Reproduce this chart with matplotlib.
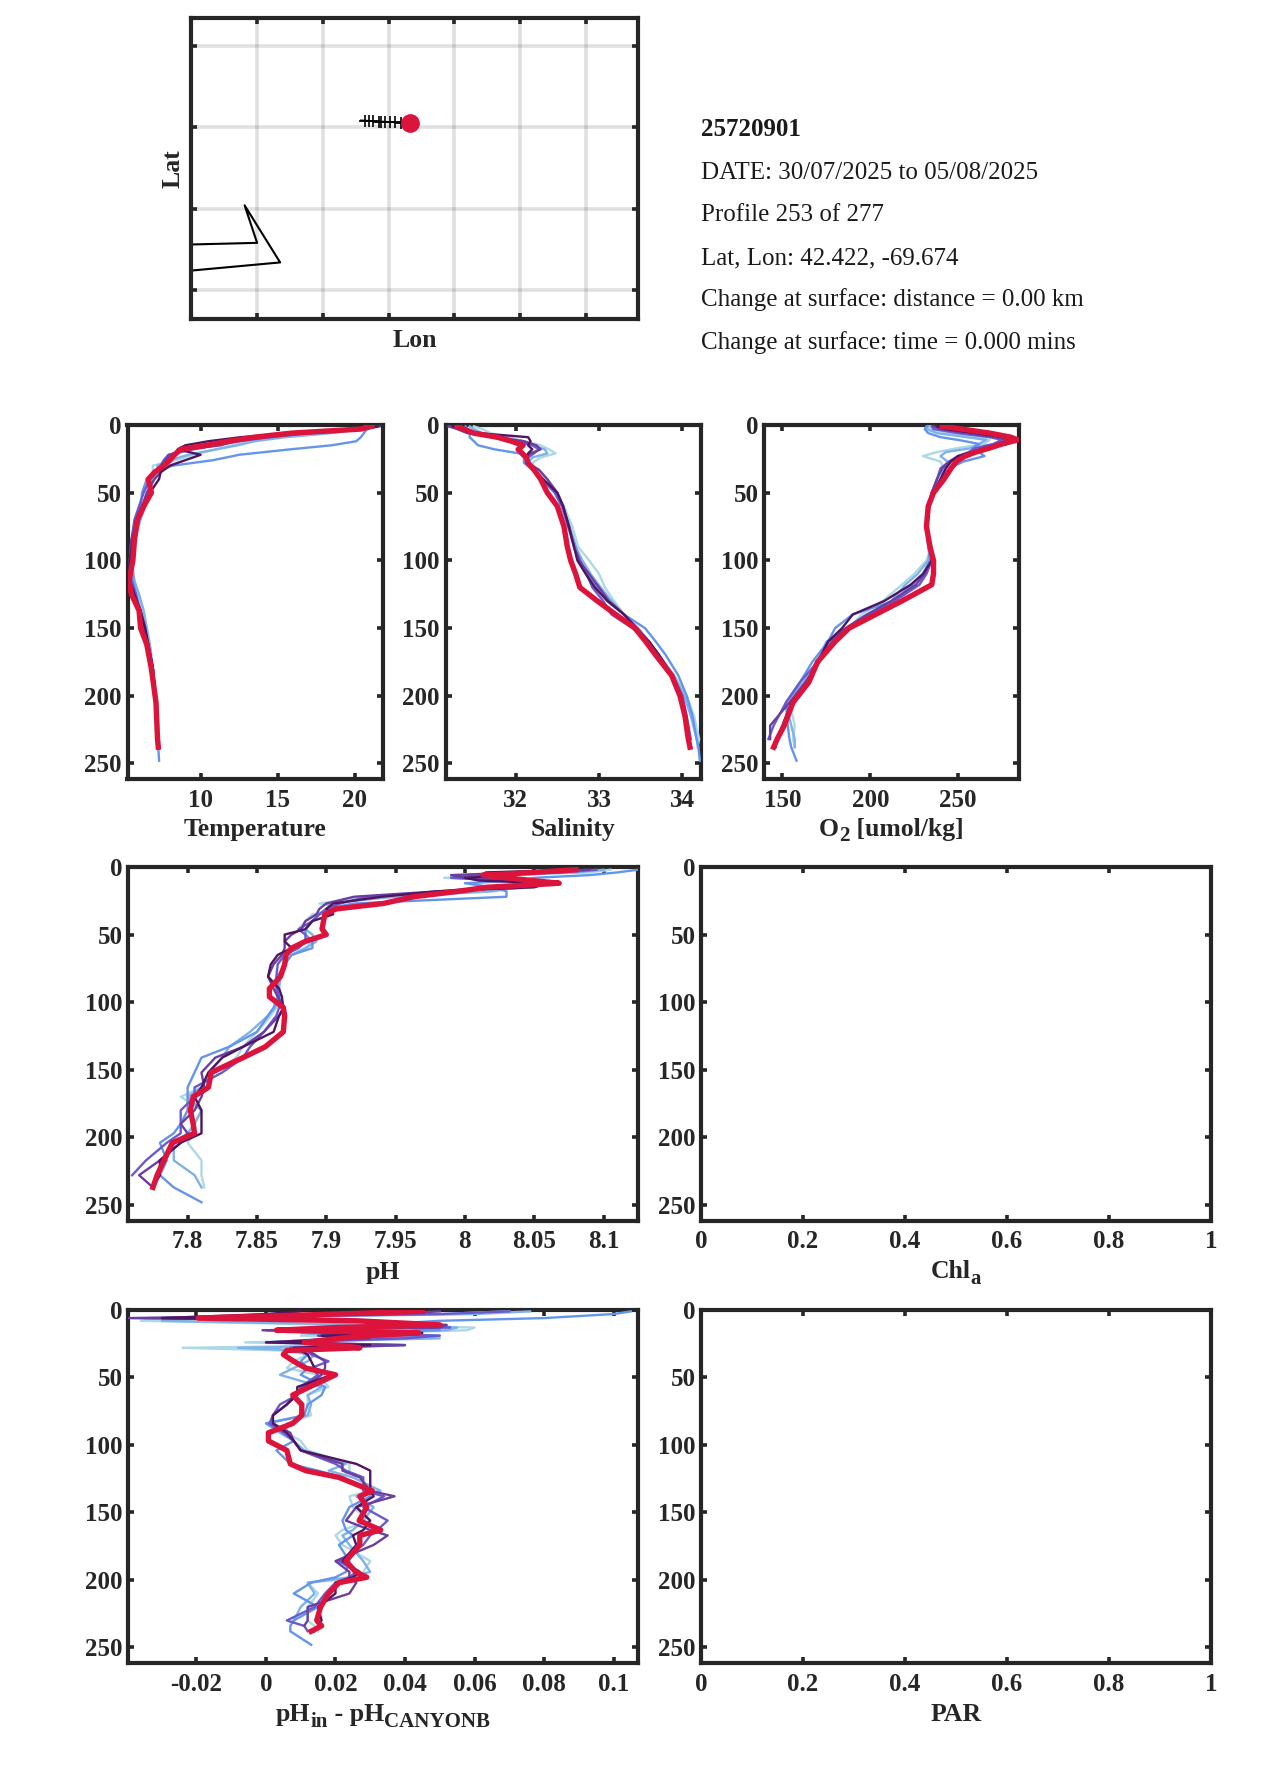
import matplotlib
matplotlib.use("Agg")
import matplotlib.pyplot as plt

plt.rcParams['font.family'] = ['Liberation Serif', 'DejaVu Serif']

W, H = 1275, 1771
DARK = '#262626'
colors = ['#add8e6', '#7fb2e8', '#6495ed', '#6a5acd', '#6b3fa0', '#4f1560', '#dc143c']

# ---- map ----
coast_lon = [-73.0, -72.0, -72.19, -71.65, -73.0]
coast_lat = [41.68, 41.69, 41.92, 41.57, 41.52]
track_lon = [-70.354, -70.303, -70.24, -70.152, -70.117, -70.05, -69.985, -69.90, -69.82]
track_lat = [42.44, 42.438, 42.437, 42.434, 42.433, 42.432, 42.43, 42.43, 42.428]
track_tail_lon = [-70.42, -69.674]
track_tail_lat = [42.441, 42.424]
lon_ticks = [-72, -71, -70, -69, -68, -67]
lat_ticks = [41.4, 41.9, 42.4, 42.9]

# ---- temperature ----
zT = [1, 3, 6, 9, 12, 15, 18, 22, 26, 30, 35, 40, 50, 60, 70, 85, 100, 115, 125, 137, 150, 162, 180, 205, 232, 238, 248]
T_light = [20.7, 20.3, 18.0, 15.0, 13.0, 12.0, 11.0, 9.5, 8.4, 6.9, 6.9, 6.8, 6.5, 6.4, 6.0, 5.7, 5.5, 5.7, 5.9, 6.2, 6.5, 6.7, 6.9, 7.1, 7.2, 7.25]
T_sky = [20.9, 20.5, 18.5, 15.5, 13.5, 12.4, 11.0, 9.2, 8.0, 7.2, 7.2, 6.9, 6.6, 6.4, 6.1, 5.7, 5.5, 5.7, 6.0, 6.3, 6.5, 6.7, 6.9, 7.1, 7.2, 7.25]
T_blue = [21.0, 20.8, 20.6, 20.4, 20.1, 18.5, 15.8, 12.5, 10.8, 8.2, 7.0, 6.5, 6.2, 6.1, 5.9, 5.6, 5.5, 5.6, 5.8, 6.1, 6.4, 6.6, 6.9, 7.1, 7.2, 7.25, 7.3]
T_slate = [21.4, 20.5, 17.0, 14.5, 12.5, 11.0, 9.5, 7.9, 7.6, 7.4, 7.1, 6.7, 6.3, 6.0, 5.7, 5.5, 5.4, 5.5, 5.8, 6.0, 6.3, 6.6, 6.9, 7.1, 7.2]
T_purple = [21.6, 20.6, 16.5, 14.0, 12.2, 11.3, 9.0, 8.0, 7.7, 7.5, 7.4, 7.0, 6.5, 6.2, 5.9, 5.5, 5.4, 5.4, 5.7, 6.0, 6.3, 6.6, 6.9, 7.1, 7.2]
T_dark = [21.5, 20.4, 16.0, 12.6, 10.5, 9.0, 8.5, 10.0, 9.0, 8.0, 7.4, 7.3, 6.7, 6.2, 5.8, 5.6, 5.4, 5.4, 5.7, 6.1, 6.4, 6.6, 6.9, 7.1, 7.2, 7.25]
T_red = [21.1, 20.4, 15.9, 13.5, 11.8, 10.4, 8.7, 8.3, 8.0, 7.6, 7.0, 6.6, 6.8, 6.3, 5.9, 5.7, 5.6, 5.35, 5.5, 6.0, 6.1, 6.5, 6.8, 7.1, 7.2, 7.25]

# ---- salinity ----
zS = [1, 3, 6, 9, 12, 15, 18, 21, 24, 28, 33, 40, 50, 60, 75, 90, 100, 110, 120, 130, 140, 150, 160, 170, 185, 200, 215, 232, 238, 248]
S_light = [31.5, 31.6, 31.7, 31.9, 32.1, 32.3, 32.4, 32.48, 32.3, 32.2, 32.25, 32.38, 32.48, 32.58, 32.68, 32.75, 32.88, 33.0, 33.07, 33.18, 33.3, 33.42, 33.55, 33.7, 33.9, 34.05, 34.14, 34.2, 34.18]
S_sky = [31.45, 31.5, 31.6, 31.85, 32.1, 32.2, 32.35, 32.38, 32.2, 32.15, 32.22, 32.33, 32.47, 32.56, 32.65, 32.72, 32.8, 32.9, 33.02, 33.15, 33.3, 33.47, 33.6, 33.72, 33.9, 34.02, 34.1, 34.17, 34.19]
S_blue = [31.4, 31.42, 31.45, 31.45, 31.5, 31.55, 31.75, 32.05, 32.1, 32.1, 32.2, 32.32, 32.47, 32.55, 32.63, 32.72, 32.77, 32.85, 32.98, 33.1, 33.3, 33.55, 33.68, 33.8, 33.95, 34.05, 34.12, 34.17, 34.19, 34.21]
S_slate = [31.2, 31.35, 31.45, 31.7, 32.0, 32.2, 32.28, 32.22, 32.15, 32.12, 32.2, 32.32, 32.47, 32.56, 32.63, 32.7, 32.77, 32.85, 32.92, 33.05, 33.15, 33.4, 33.6, 33.72, 33.88, 34.0, 34.05, 34.1]
S_purple = [31.2, 31.3, 31.42, 31.75, 32.1, 32.25, 32.3, 32.18, 32.12, 32.14, 32.28, 32.38, 32.5, 32.57, 32.64, 32.7, 32.76, 32.88, 33.0, 33.12, 33.3, 33.45, 33.58, 33.68, 33.88, 33.98, 34.03, 34.08]
S_dark = [31.25, 31.35, 31.55, 32.15, 32.18, 32.15, 32.2, 32.15, 32.13, 32.15, 32.22, 32.33, 32.5, 32.57, 32.64, 32.7, 32.74, 32.84, 32.95, 33.1, 33.3, 33.45, 33.6, 33.72, 33.88, 33.98, 34.03, 34.07, 34.09]
S_red = [31.3, 31.38, 31.5, 31.78, 31.95, 32.09, 32.03, 32.08, 32.13, 32.15, 32.22, 32.3, 32.38, 32.5, 32.58, 32.62, 32.66, 32.72, 32.77, 32.98, 33.2, 33.43, 33.56, 33.68, 33.87, 33.97, 34.03, 34.07, 34.09]

# ---- oxygen ----
zO = [1, 3, 6, 9, 11, 14, 17, 20, 23, 27, 32, 40, 50, 60, 75, 90, 100, 110, 118, 130, 140, 150, 160, 175, 190, 205, 222, 232, 238, 248]
O_light = [234, 234, 245, 262, 268, 265, 250, 238, 230, 240, 242, 240, 237, 234, 232, 235, 232, 225, 218, 207, 195, 188, 177, 169, 164, 154, 157, 156, 157]
O_sky = [233, 232, 238, 255, 266, 262, 258, 243, 240, 244, 242, 240, 236, 233, 232, 234, 233, 227, 220, 212, 200, 187, 175, 170, 162, 152, 155, 157, 157]
O_blue = [232, 231, 233, 240, 250, 262, 258, 262, 265, 253, 245, 240, 235, 233, 232, 233, 234, 230, 224, 213, 190, 180, 176, 167, 160, 152, 153, 154, 155, 158]
O_slate = [235, 236, 250, 268, 275, 270, 260, 256, 250, 245, 240, 238, 235, 233, 232, 234, 235, 232, 228, 214, 200, 188, 178, 170, 160, 152, 145, 142]
O_purple = [236, 240, 255, 272, 278, 272, 264, 258, 250, 245, 241, 238, 235, 233, 232, 234, 235, 231, 226, 212, 198, 186, 176, 171, 163, 154, 143, 143]
O_dark = [238, 243, 260, 276, 282, 278, 268, 258, 250, 246, 243, 240, 236, 233, 232, 234, 235, 230, 223, 208, 190, 184, 176, 170, 165, 155, 150, 147, 146]
O_red = [241, 252, 268, 280, 284, 275, 268, 260, 254, 249, 246, 242, 236, 233, 232, 234, 236, 236, 235, 218, 203, 188, 180, 170, 165, 156, 151, 147, 145]

# ---- pH ----
zP = [2, 4, 6, 8, 10, 12, 15, 18, 22, 27, 31, 35, 40, 46, 50, 55, 60, 65, 72, 81, 90, 96, 104, 110, 122, 133, 141, 152, 163, 170, 180, 190, 197, 204, 217, 228, 237, 248]
P_light = [8.105, 8.09, 8.03, 7.985, 8.04, 8.06, 8.05, 8.0, 7.93, 7.895, 7.915, 7.89, 7.885, 7.88, 7.885, 7.89, 7.885, 7.875, 7.87, 7.866, 7.865, 7.868, 7.864, 7.86, 7.85, 7.84, 7.835, 7.82, 7.81, 7.795, 7.81, 7.805, 7.805, 7.80, 7.81, 7.81, 7.812]
P_sky = [8.10, 8.08, 8.02, 7.99, 8.03, 8.05, 8.04, 8.02, 7.95, 7.90, 7.91, 7.895, 7.89, 7.885, 7.89, 7.893, 7.885, 7.875, 7.87, 7.867, 7.866, 7.866, 7.863, 7.858, 7.845, 7.83, 7.825, 7.815, 7.81, 7.80, 7.81, 7.805, 7.80, 7.79, 7.79, 7.805, 7.81]
P_blue = [8.125, 8.11, 8.09, 8.05, 8.04, 8.0, 8.02, 8.03, 8.03, 7.92, 7.90, 7.895, 7.89, 7.885, 7.885, 7.89, 7.89, 7.875, 7.87, 7.865, 7.865, 7.865, 7.862, 7.858, 7.85, 7.83, 7.81, 7.805, 7.80, 7.80, 7.80, 7.795, 7.79, 7.78, 7.785, 7.78, 7.79, 7.81]
P_slate = [8.095, 8.07, 8.01, 7.99, 8.03, 8.04, 8.03, 7.99, 7.93, 7.91, 7.90, 7.895, 7.89, 7.88, 7.885, 7.885, 7.88, 7.87, 7.865, 7.864, 7.864, 7.866, 7.866, 7.864, 7.855, 7.845, 7.84, 7.825, 7.805, 7.805, 7.795, 7.795, 7.795, 7.785, 7.77, 7.76]
P_purple = [8.09, 8.04, 7.99, 8.0, 8.03, 8.05, 8.02, 7.98, 7.92, 7.90, 7.895, 7.893, 7.885, 7.882, 7.875, 7.87, 7.87, 7.868, 7.862, 7.858, 7.862, 7.865, 7.87, 7.866, 7.855, 7.84, 7.82, 7.81, 7.812, 7.81, 7.805, 7.795, 7.80, 7.795, 7.78, 7.765, 7.775]
P_dark = [8.08, 8.015, 8.03, 8.0, 8.01, 8.06, 8.05, 7.98, 7.94, 7.905, 7.90, 7.905, 7.89, 7.885, 7.87, 7.87, 7.875, 7.865, 7.86, 7.858, 7.866, 7.868, 7.869, 7.866, 7.862, 7.84, 7.825, 7.815, 7.81, 7.805, 7.81, 7.81, 7.81, 7.795, 7.78, 7.78, 7.775]
P_red = [8.08, 8.05, 8.013, 8.03, 8.048, 8.068, 8.016, 7.995, 7.963, 7.941, 7.907, 7.899, 7.898, 7.897, 7.90, 7.885, 7.875, 7.871, 7.87, 7.867, 7.859, 7.859, 7.869, 7.870, 7.869, 7.856, 7.84, 7.817, 7.815, 7.804, 7.802, 7.804, 7.805, 7.789, 7.783, 7.778, 7.775]

# ---- pH minus CANYON-B ----
zD = [1, 3, 6, 8, 11, 13, 15, 17, 19, 21, 24, 26, 28, 30, 33, 38, 43, 48, 57, 63, 70, 78, 84, 91, 97, 104, 114, 119, 124, 134, 138, 146, 156, 163, 167, 174, 186, 194, 198, 202, 210, 220, 230, 234, 238, 248]
D_light = [0.07, 0.05, -0.03, -0.036, 0.02, 0.06, 0.058, 0.03, 0.01, 0.04, -0.006, 0.03, -0.024, 0.005, 0.012, 0.008, 0.006, 0.015, 0.018, 0.012, 0.012, 0.013, 0.006, 0.006, 0.01, 0.012, 0.024, 0.024, 0.022, 0.03, 0.024, 0.025, 0.03, 0.022, 0.02, 0.022, 0.03, 0.028, 0.029, 0.012, 0.015, 0.012, 0.012, 0.014, 0.015]
D_sky = [0.076, 0.06, -0.02, -0.03, 0.03, 0.055, 0.052, 0.01, 0.02, 0.05, 0.0, 0.04, -0.008, 0.01, 0.014, 0.012, 0.008, 0.004, 0.016, 0.012, 0.013, 0.012, 0.0, 0.004, 0.008, 0.011, 0.023, 0.018, 0.025, 0.033, 0.026, 0.031, 0.028, 0.025, 0.022, 0.024, 0.028, 0.03, 0.024, 0.012, 0.014, 0.01, 0.008]
D_blue = [0.105, 0.1, 0.08, 0.05, 0.03, 0.04, 0.05, 0.015, 0.05, 0.02, 0.0, 0.04, 0.02, 0.008, 0.012, 0.01, 0.012, 0.01, 0.017, 0.016, 0.012, 0.011, 0.0, 0.005, 0.008, 0.003, 0.007, 0.015, 0.022, 0.03, 0.03, 0.024, 0.022, 0.023, 0.025, 0.021, 0.024, 0.023, 0.02, 0.013, 0.008, 0.015, 0.008, 0.007, 0.007, 0.013]
D_slate = [0.07, 0.05, -0.03, 0.02, 0.05, 0.053, 0.0, 0.02, 0.05, 0.04, 0.005, 0.03, 0.007, 0.012, 0.013, 0.018, 0.013, 0.015, 0.01, 0.009, 0.004, 0.002, 0.001, 0.005, 0.008, 0.01, 0.02, 0.023, 0.028, 0.028, 0.034, 0.028, 0.035, 0.032, 0.03, 0.028, 0.021, 0.026, 0.024, 0.02, 0.017, 0.014, 0.006, 0.011, 0.012]
D_purple = [0.05, 0.035, -0.04, 0.03, 0.052, 0.05, -0.001, 0.04, 0.015, 0.03, 0.006, 0.04, 0.01, 0.012, 0.014, 0.017, 0.017, 0.016, 0.011, 0.008, 0.006, 0.002, 0.002, 0.007, 0.008, 0.01, 0.022, 0.022, 0.027, 0.03, 0.037, 0.026, 0.023, 0.03, 0.035, 0.031, 0.02, 0.024, 0.024, 0.026, 0.024, 0.012, 0.012, 0.011]
D_dark = [0.01, 0.0, -0.03, 0.03, 0.05, 0.02, 0.02, 0.045, 0.016, 0.025, 0.0, 0.03, 0.008, 0.01, 0.012, 0.013, 0.014, 0.019, 0.009, 0.009, 0.006, 0.002, 0.002, 0.006, 0.008, 0.01, 0.026, 0.03, 0.03, 0.03, 0.031, 0.026, 0.03, 0.028, 0.025, 0.026, 0.022, 0.027, 0.025, 0.02, 0.02, 0.015, 0.016, 0.015, 0.014]
D_red = [0.045, 0.02, -0.0195, 0.026, 0.05, 0.02, 0.003, 0.044, 0.03, 0.021, 0.011, 0.02, 0.027, 0.006, 0.005, 0.008, 0.0114, 0.02, 0.0125, 0.0077, 0.0103, 0.0103, 0.0077, 0.0007, 0.0007, 0.006, 0.007, 0.0114, 0.021, 0.0306, 0.027, 0.029, 0.0268, 0.033, 0.027, 0.027, 0.023, 0.0258, 0.029, 0.021, 0.018, 0.0157, 0.0146, 0.016, 0.013]

T_series = [T_light, T_sky, T_blue, T_slate, T_purple, T_dark, T_red]
S_series = [S_light, S_sky, S_blue, S_slate, S_purple, S_dark, S_red]
O_series = [O_light, O_sky, O_blue, O_slate, O_purple, O_dark, O_red]
P_series = [P_light, P_sky, P_blue, P_slate, P_purple, P_dark, P_red]
D_series = [D_light, D_sky, D_blue, D_slate, D_purple, D_dark, D_red]

depth_ticks = [0, 50, 100, 150, 200, 250]
unit_ticks = [0, 0.2, 0.4, 0.6, 0.8, 1]

info = ['25720901', 'DATE: 30/07/2025 to 05/08/2025', 'Profile 253 of 277', 'Lat, Lon: 42.422, -69.674',
        'Change at surface: distance = 0.00 km', 'Change at surface: time = 0.000 mins']
info_y = [130, 173, 215, 258, 300, 343]

LABEL = 18.5
fig = plt.figure(figsize=(W / 100, H / 100), dpi=100)
fig.canvas.draw()
rend = fig.canvas.get_renderer()


def make_ax(l, t, r, b):
    ax = fig.add_axes([l / W, 1 - b / H, (r - l) / W, (b - t) / H])
    for s in ax.spines.values():
        s.set_linewidth(3.0)
        s.set_color(DARK)
    ax.tick_params(which='both', direction='in', top=True, right=True, length=4.5, width=2.6,
                   color=DARK, labelcolor=DARK, labelsize=18)
    return ax


def label_parts(parts, cx, base):
    """Write a label from (text, is_subscript) pieces, centred on cx with its baseline at base (pixels)."""
    items = []
    total = 0
    for s, sub in parts:
        t = fig.text(0, 0, s, fontsize=LABEL * (0.82 if sub else 1), fontweight='bold', color=DARK, va='baseline', ha='left')
        # keep trailing spaces in the measured advance
        w = t.get_window_extent(rend).width
        if s.endswith(' '):
            w += LABEL * 0.25 * 100 / 72
        items.append((t, w, sub))
        total += w
    x = cx - total / 2
    for t, w, sub in items:
        t.set_position((x / W, 1 - (base + (6 if sub else 0)) / H))
        x += w


def finish(ax, xlim, xticks, xticklabels, parts, box, off):
    ax.set_xlim(*xlim)
    ax.set_ylim(261.5, 0)
    ax.set_xticks(xticks)
    ax.set_xticklabels(xticklabels, fontweight='bold')
    ax.set_yticks(depth_ticks)
    ax.set_yticklabels([str(v) for v in depth_ticks], fontweight='bold')
    ax.tick_params(axis='y', pad=4)
    ax.tick_params(axis='x', pad=7)
    label_parts(parts, (box[0] + box[2]) / 2, box[3] + off)


def profiles(ax, z, series):
    for v, c in zip(series, colors):
        red = c == colors[-1]
        ax.plot(v, z[:len(v)], color=c, lw=3.9 if red else 1.7, solid_joinstyle='round', zorder=5 if red else 3)


# map panel
m = make_ax(191, 18, 638, 319)
m.set_xlim(-73.005, -66.21)
m.set_ylim(41.223, 43.069)
m.set_xticks(lon_ticks)
m.set_yticks(lat_ticks)
m.set_xticklabels([])
m.set_yticklabels([])
m.grid(True, color='#000000', alpha=0.12, lw=2.6)
m.set_axisbelow(True)
m.plot(coast_lon, coast_lat, color='black', lw=1.5)
m.plot(track_tail_lon, track_tail_lat, color='black', lw=1.3)
m.plot(track_lon, track_lat, ls='none', color='black', marker='+', ms=8, mew=1.2)
m.plot(track_tail_lon[-1:], track_tail_lat[-1:], 'o', color=colors[-1], ms=13.5, mew=0, zorder=6)
label_parts([('Lon', False)], 414.5, 347)
fig.text(173 / W, 1 - 169 / H, 'Lat', fontsize=LABEL, fontweight='bold', color=DARK, rotation=90, va='center', ha='center')

for i, (t, y) in enumerate(zip(info, info_y)):
    fig.text(701 / W, 1 - y / H, t, fontsize=18.0, fontweight='bold' if i == 0 else 'normal', color='#1a1a1a', va='center')

box = (127.5, 425, 383, 779)
a = make_ax(*box)
profiles(a, zT, T_series)
finish(a, (5.25, 21.84), [10, 15, 20], ['10', '15', '20'], [('Temperature', False)], box, 56.5)

box = (445.5, 425, 700.5, 779)
a = make_ax(*box)
profiles(a, zS, S_series)
finish(a, (31.16, 34.216), [32, 33, 34], ['32', '33', '34'], [('Salinity', False)], box, 56.5)

box = (764, 425, 1018.5, 779)
a = make_ax(*box)
profiles(a, zO, O_series)
finish(a, (139.5, 284.4), [150, 200, 250], ['150', '200', '250'], [('O', False), ('2', True), (' [umol/kg]', False)], box, 56.5)

box = (128, 867, 637.5, 1220.5)
a = make_ax(*box)
profiles(a, zP, P_series)
finish(a, (7.757, 8.1245), [7.8, 7.85, 7.9, 7.95, 8, 8.05, 8.1], ['7.8', '7.85', '7.9', '7.95', '8', '8.05', '8.1'],
       [('pH', False)], box, 58)

box = (701, 867, 1211, 1220.5)
a = make_ax(*box)
finish(a, (0, 1), unit_ticks, ['0', '0.2', '0.4', '0.6', '0.8', '1'], [('Chl', False), ('a', True)], box, 58)

box = (128, 1310, 637.5, 1663)
a = make_ax(*box)
profiles(a, zD, D_series)
finish(a, (-0.0397, 0.1069), [-0.02, 0, 0.02, 0.04, 0.06, 0.08, 0.1], ['-0.02', '0', '0.02', '0.04', '0.06', '0.08', '0.1'],
       [('pH', False), ('in', True), (' - pH', False), ('CANYONB', True)], box, 58)

box = (701, 1310, 1211, 1663)
a = make_ax(*box)
finish(a, (0, 1), unit_ticks, ['0', '0.2', '0.4', '0.6', '0.8', '1'], [('PAR', False)], box, 58)

fig.savefig('out.png', dpi=100)
